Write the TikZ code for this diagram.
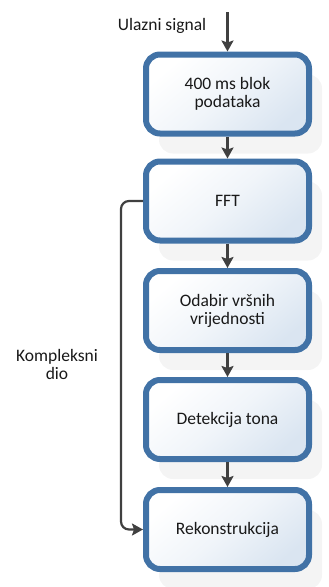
\documentclass[tikz,border=0pt]{standalone}
\usepackage{fontspec}
\setmainfont{Carlito}
\usetikzlibrary{arrows.meta,shadows}
\definecolor{boxedge}{RGB}{65,114,166}
\definecolor{boxtint}{RGB}{218,229,241}
\definecolor{linegray}{RGB}{64,64,64}
\definecolor{shadowgray}{RGB}{244,244,244}
\begin{document}
\begin{tikzpicture}[x=1pt,y=-1pt,
  stage/.style={draw=boxedge, line width=6pt, rounded corners=14pt,
    minimum width=163pt, minimum height=79pt, align=center,
    shading=axis, top color=white, bottom color=boxtint, middle color=white!60!boxtint, shading angle=40,
    font=\fontsize{17.5}{18}\selectfont, text=black!90,
    drop shadow={shadow xshift=13pt, shadow yshift=-20pt, fill=shadowgray, opacity=1}},
  flow/.style={draw=linegray, line width=2.2pt,
    -{Stealth[length=11pt,width=12pt,inset=2pt]}},
  lbl/.style={font=\fontsize{17.5}{18}\selectfont, align=center, text=black!90}]
\useasboundingbox (0,0) rectangle (329,587);
\node[stage] (b1) at (227.5,94) {400 ms blok\\podataka};
\node[stage] (b2) at (227.5,201) {FFT};
\node[stage] (b3) at (227.5,310.5) {Odabir vršnih\\vrijednosti};
\node[stage] (b4) at (227.5,419.5) {Detekcija tona};
\node[stage] (b5) at (227.5,529.5) {Rekonstrukcija};
\coordinate (in) at (227.5,12);
\node[lbl] (inlbl) at (162,26) {Ulazni signal};
\node[lbl] (cplx) at (57,364) {Kompleksni\\dio};
\draw[flow] (in) -- (b1);
\draw[flow] (b1) -- (b2);
\draw[flow] (b2) -- (b3);
\draw[flow] (b3) -- (b4);
\draw[flow] (b4) -- (b5);
\draw[flow, rounded corners=8pt] (b2.west) -- (121,201) -- (121,529.5) -- (b5.west);
\end{tikzpicture}
\end{document}
